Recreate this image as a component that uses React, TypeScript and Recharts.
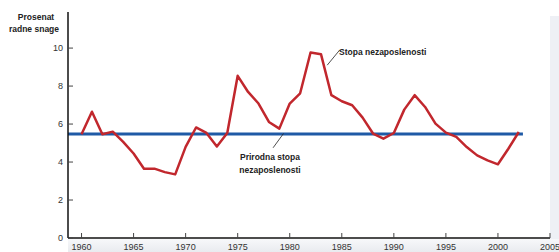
import React from "react";
import { LineChart, Line, XAxis, YAxis, ReferenceLine, Customized } from "recharts";

const years = [1960,1961,1962,1963,1964,1965,1966,1967,1968,1969,1970,1971,1972,1973,1974,1975,1976,1977,1978,1979,1980,1981,1982,1983,1984,1985,1986,1987,1988,1989,1990,1991,1992,1993,1994,1995,1996,1997,1998,1999,2000,2001,2002];
const unemployment = [5.46,6.65,5.46,5.6,5.06,4.45,3.65,3.65,3.47,3.35,4.8,5.82,5.53,4.82,5.53,8.54,7.69,7.08,6.11,5.76,7.08,7.62,9.77,9.68,7.52,7.2,6.99,6.34,5.5,5.23,5.53,6.76,7.52,6.9,6.02,5.55,5.32,4.79,4.35,4.09,3.88,4.7,5.58];
const naturalYears = [1958.7, 2002.4];
const naturalRate = [5.47, 5.47];
const xTicks = [1960,1965,1970,1975,1980,1985,1990,1995,2000,2005];
const yTicks = [0,2,4,6,8,10];
const yAxisTitle = ["Prosenat", "radne snage"];
const seriesLabel = "Stopa nezaposlenosti";
const naturalLabel = ["Prirodna stopa", "nezaposlenosti"];

const redData = years.map((y, i) => ({ year: y, v: unemployment[i] }));
const blueData = naturalYears.map((y, i) => ({ year: y, v: naturalRate[i] }));

const FONT = "'Liberation Sans', Arial, sans-serif";

const XTick = (props: any) => {
  const { x, y, payload } = props;
  return (
    <g>
      <line x1={x} y1={y} x2={x} y2={y - 5} stroke="#444" strokeWidth={1} />
      <text x={x} y={y + 12} textAnchor="middle" fontSize={9} fill="#333" fontFamily={FONT}>{payload.value}</text>
    </g>
  );
};

const YTick = (props: any) => {
  const { x, y, payload } = props;
  return (
    <g>
      <line x1={x} y1={y} x2={x + 5} y2={y} stroke="#444" strokeWidth={1} />
      <text x={x - 5} y={y + 3} textAnchor="end" fontSize={9} fill="#333" fontFamily={FONT}>{payload.value}</text>
    </g>
  );
};

const Annotations = () => (
  <g fontFamily={FONT} fontWeight="bold" fontSize={8.5} fill="#222">
    <text x={36} y={20} textAnchor="middle">{yAxisTitle[0]}</text>
    <text x={34} y={32} textAnchor="middle">{yAxisTitle[1]}</text>
    <text x={339} y={55}>{seriesLabel}</text>
    <text x={270} y={160} textAnchor="middle">{naturalLabel[0]}</text>
    <text x={270} y={173} textAnchor="middle">{naturalLabel[1]}</text>
  </g>
);

export default function App() {
  return (
    <div style={{ position: "absolute", left: 0, top: 0, width: 559, height: 252, background: "#fff" }}>
      <div style={{ position: "absolute", left: 550, top: 16, width: 9, height: 236, background: "#eef0f5" }} />
      <div style={{ position: "absolute", left: 68, top: 239, width: 491, height: 13, background: "linear-gradient(#f7f8fa, #e9ebef)" }} />
      <div style={{ position: "absolute", left: 0, top: 0 }}>
        <LineChart width={559} height={252} data={redData} margin={{ top: 12, right: 9, bottom: 0, left: 0 }}>
          <XAxis
            dataKey="year"
            type="number"
            domain={[1958.7, 2005]}
            ticks={xTicks}
            allowDataOverflow
            height={14}
            tickSize={0}
            tickMargin={0}
            tickLine={false}
            tick={<XTick />}
            axisLine={{ stroke: "#111", strokeWidth: 1.5 }}
            interval={0}
          />
          <YAxis
            type="number"
            domain={[0, 11.9]}
            ticks={yTicks}
            allowDataOverflow
            width={68}
            tickSize={0}
            tickMargin={0}
            tickLine={false}
            tick={<YTick />}
            axisLine={{ stroke: "#111", strokeWidth: 1.5 }}
            interval={0}
          />
          <Line data={blueData} dataKey="v" stroke="#1f5aa6" strokeWidth={3} dot={false} isAnimationActive={false} />
          <Line dataKey="v" stroke="#c1272d" strokeWidth={2.5} dot={false} isAnimationActive={false} strokeLinejoin="round" />
          <ReferenceLine segment={[{ x: 1983.6, y: 9.1 }, { x: 1984.8, y: 9.9 }]} stroke="#222" strokeWidth={0.8} />
          <ReferenceLine segment={[{ x: 1978.4, y: 4.75 }, { x: 1979.4, y: 5.5 }]} stroke="#222" strokeWidth={0.8} />
          <Customized component={Annotations} />
        </LineChart>
      </div>
    </div>
  );
}
